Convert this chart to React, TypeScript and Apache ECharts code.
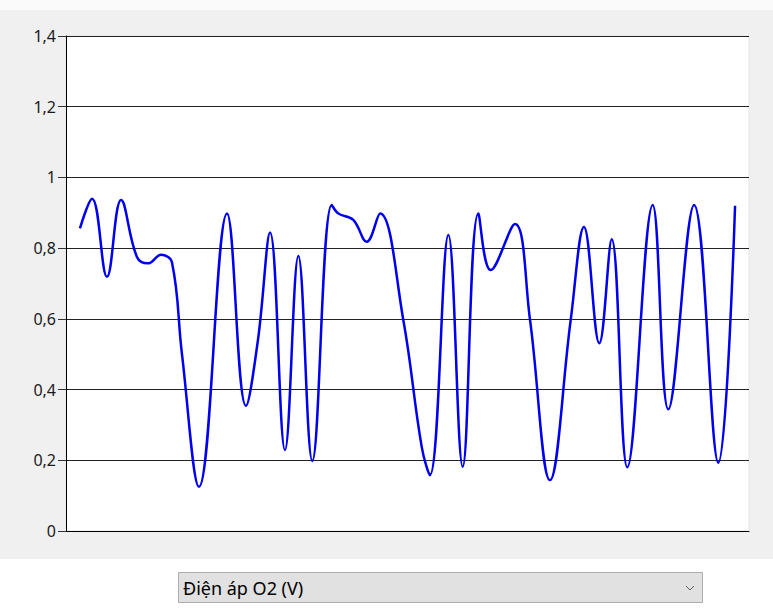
import React, { useEffect, useRef } from "react";
import * as echarts from "echarts";

// y-axis ticks (V)
const yTicks = [0, 0.2, 0.4, 0.6, 0.8, 1, 1.2, 1.4];
// sample time (s), axis spans 0..49
const timeS = [
  1.0, 1.87, 2.94, 3.95, 5.09, 5.88, 6.82, 7.6, 8.32, 9.54, 11.55,
  12.91, 13.77, 14.64, 15.71, 16.67, 17.67, 19.06, 19.54, 20.61, 21.57,
  22.53, 24.2, 25.52, 26.11, 27.43, 28.46, 29.58, 30.47, 32.21, 33.29, 34.72,
  36.21, 37.16, 38.26, 39.15, 40.27, 42.09, 43.21, 45.06, 46.8, 48.0,
];
// O2 sensor voltage (V)
const voltageV = [
  0.856, 0.94, 0.719, 0.936, 0.775, 0.757, 0.781, 0.76, 0.5, 0.125,
  0.898, 0.354, 0.54, 0.844, 0.229, 0.778, 0.198, 0.922, 0.898, 0.88,
  0.818, 0.898, 0.597, 0.238, 0.158, 0.837, 0.182, 0.898, 0.738, 0.868, 0.597,
  0.144, 0.597, 0.86, 0.531, 0.825, 0.18, 0.922, 0.344, 0.922, 0.193, 0.92,
];
const comboText = "Điện áp O2 (V)";

const FONT = "'Segoe UI', 'Noto Sans', 'Open Sans', sans-serif";

export default function App() {
  const ref = useRef<HTMLDivElement>(null);
  useEffect(() => {
    const chart = echarts.init(ref.current!, null, { renderer: "svg" });
    chart.setOption({
      animation: false,
      backgroundColor: "#ffffff",
      graphic: [
        { type: "rect", z: -10, silent: true, shape: { x: 0, y: 0, width: 773, height: 10 }, style: { fill: "#fafafa" } },
        { type: "rect", z: -10, silent: true, shape: { x: 0, y: 10, width: 773, height: 549 }, style: { fill: "#f0f0f0" } },
        { type: "rect", z: -9, silent: true, shape: { x: 66, y: 36, width: 683, height: 495 }, style: { fill: "#ffffff", stroke: "#e4e4e4", lineWidth: 1 } },
        { type: "rect", z: 5, silent: true, shape: { x: 178.5, y: 572.5, width: 524, height: 30 }, style: { fill: "#e1e1e1", stroke: "#adadad", lineWidth: 1 } },
        { type: "text", z: 6, silent: true, x: 183, y: 588, style: { text: comboText, fontSize: 18, fontFamily: FONT, fill: "#000000", verticalAlign: "middle", align: "left" } },
        { type: "polyline", z: 6, silent: true, shape: { points: [[686, 586], [690, 590], [694, 586]] }, style: { stroke: "#606060", lineWidth: 1, fill: "none" } },
      ],
      grid: { left: 66, top: 36, right: 24, bottom: 81, show: false },
      xAxis: {
        type: "value",
        min: 0,
        max: 49,
        axisLine: { show: true, lineStyle: { color: "#000000", width: 1 } },
        axisTick: { show: false },
        axisLabel: { show: false },
        splitLine: { show: false },
      },
      yAxis: {
        type: "value",
        min: yTicks[0],
        max: yTicks[yTicks.length - 1],
        interval: 0.2,
        axisLine: { show: true, lineStyle: { color: "#000000", width: 1 } },
        axisTick: { show: true, length: 8, lineStyle: { color: "#333333" } },
        axisLabel: {
          margin: 10,
          fontSize: 16,
          color: "#1a1a1a",
          fontFamily: FONT,
          formatter: (v: number) => String(Math.round(v * 10) / 10).replace(".", ","),
        },
        splitLine: { show: true, lineStyle: { color: "#222222", width: 1 } },
      },
      series: [
        {
          type: "line",
          name: comboText,
          data: timeS.map((t, i) => [t, voltageV[i]]),
          smooth: 0.4,
          showSymbol: false,
          lineStyle: { color: "#0000ee", width: 2.5 },
          z: 3,
        },
      ],
    });
    return () => chart.dispose();
  }, []);
  return <div ref={ref} style={{ position: "fixed", left: 0, top: 0, width: 773, height: 612 }} />;
}
